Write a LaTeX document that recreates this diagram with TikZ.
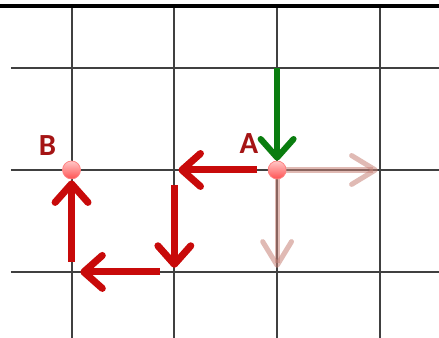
\documentclass[tikz,border=0pt]{standalone}
\usepackage{fontspec}
\setmainfont{Carlito}
\usepackage[usenames,dvipsnames,x11names,rgb]{xcolor}
\usepackage{tikz}
\usetikzlibrary{arrows.meta}

\definecolor{pathred}{RGB}{200,10,10}
\definecolor{labred}{RGB}{165,20,20}
\definecolor{downgreen}{RGB}{10,125,15}
\definecolor{fadepink}{RGB}{200,130,120}

\begin{document}
\begin{tikzpicture}[x=2cm, y=1.984cm,
        gridline/.style={line width=1.1pt, black!75},
        dot/.style={circle, minimum size=0.35cm, inner sep=0pt, top color=red!22!white, bottom color=red!68!white, draw=red!50, thin},
        lab/.style={labred, font=\fontsize{17}{17}\selectfont\bfseries},
        redarrow/.style={pathred, line width=3.9pt, -{Straight Barb[length=3.6mm, width=6.4mm, round]}},
        greenarrow/.style={downgreen, line width=3.4pt, -{Straight Barb[length=3.6mm, width=6.4mm, round]}},
        fadearrow/.style={fadepink, opacity=0.55, line width=2.8pt, -{Straight Barb[length=4.6mm, width=5.6mm, round]}}]
        \useasboundingbox (-0.696,-1.647) rectangle (3.575,1.667);
        \fill[white] (-0.696,-1.647) rectangle (3.575,1.667);

        % grid
        \foreach \c in {0,...,3} {
            \draw[gridline] (\c,-1.7) -- (\c,1.608);
        }
        \foreach \r in {-1,0,1} {
            \draw[gridline] (-0.589,\r) -- (3.6,\r);
        }
        \draw[line width=1.7pt, black] (-0.7,1.608) -- (3.6,1.608);

        % points
        \coordinate (top) at (2,1);
        \coordinate (mid) at (1,0);
        \coordinate (midlow) at (1,-1);
        \coordinate (low) at (0,-1);
        \coordinate (right) at (3,0);
        \coordinate (below) at (2,-1);

        % faded moves
        \draw[fadearrow, shorten >=0.04cm] (2,0) -- (right);
        \draw[fadearrow, shorten >=0.08cm] (2,0) -- (below);

        \node[dot] (A) at (2,0) {};
        \node[dot] (B) at (0,0) {};
        \node[lab] (labA) at (1.727,0.255) {A};
        \node[lab] (labB) at (-0.233,0.24) {B};

        % path from A to B
        \draw[greenarrow] (top) -- (A);
        \draw[redarrow, shorten <=0.2cm, shorten >=0.08cm] (A) -- (mid);
        \draw[redarrow, shorten <=0.29cm, shorten >=0.08cm] (mid) -- (midlow);
        \draw[redarrow, shorten <=0.27cm, shorten >=0.17cm] (midlow) -- (low);
        \draw[redarrow, shorten <=0.2cm, shorten >=0.02cm] (low) -- (B);
    \end{tikzpicture}
\end{document}
